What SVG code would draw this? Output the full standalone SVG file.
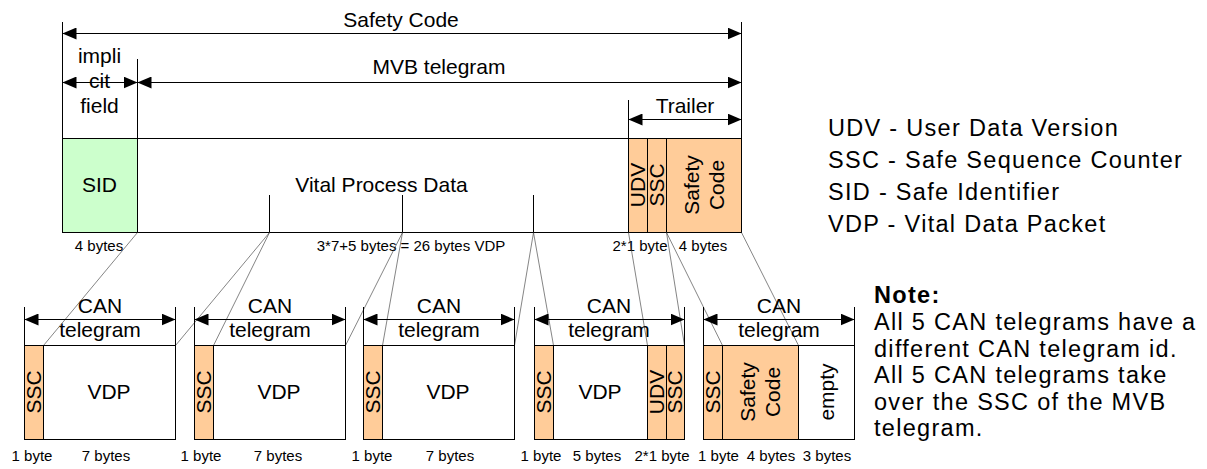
<svg xmlns="http://www.w3.org/2000/svg" width="1207" height="469" viewBox="0 0 1207 469">
<defs>
<style>
.t{font-family:"Liberation Sans",Arial,Helvetica,sans-serif;fill:#000}
.m{font-size:21px;text-anchor:middle}
.s{font-size:15px;text-anchor:middle}
.l{font-size:23.5px;letter-spacing:1.3px}
.ln{stroke:#000;stroke-width:1;fill:none}
.dim{stroke:#000;stroke-width:1;fill:none;marker-start:url(#ah);marker-end:url(#ah)}
.cn{stroke:#333;stroke-width:0.6;fill:none}
.g{fill:#ccffcc;stroke:#000;stroke-width:1}
.o{fill:#ffcc99;stroke:#000;stroke-width:1}
.w{fill:#fff;stroke:#000;stroke-width:1}
</style>
<marker id="ah" viewBox="0 0 14 12" refX="14" refY="6" markerWidth="14" markerHeight="12" markerUnits="userSpaceOnUse" orient="auto-start-reverse">
<path d="M0,0 L14,6 L0,12 z" fill="#000"/>
</marker>
</defs>
<rect width="1207" height="469" fill="#fff"/>

<g id="safety-code-span">
<line class="ln" x1="62.5" y1="22" x2="62.5" y2="138"/>
<line class="ln" x1="741.5" y1="22" x2="741.5" y2="138"/>
<line class="dim" x1="62.5" y1="33.5" x2="741.5" y2="33.5"/>
<text class="t m" x="401" y="27">Safety Code</text>
</g>

<g id="implicit-field-span">
<line class="dim" x1="62.5" y1="82.5" x2="137.5" y2="82.5"/>
<text class="t m"><tspan x="99.5" y="63">impli</tspan><tspan x="99.5" y="88">cit</tspan><tspan x="99.5" y="113">field</tspan></text>
</g>

<g id="mvb-telegram-span">
<line class="ln" x1="137.5" y1="59" x2="137.5" y2="138"/>
<line class="dim" x1="137.5" y1="82.5" x2="741.5" y2="82.5"/>
<text class="t m" x="439" y="74">MVB telegram</text>
</g>

<g id="trailer-span">
<line class="ln" x1="628.5" y1="100" x2="628.5" y2="138"/>
<line class="dim" x1="628.5" y1="119.5" x2="741.5" y2="119.5"/>
<text class="t m" x="685" y="113">Trailer</text>
</g>

<g id="mvb-frame">
<rect class="g" x="62.5" y="138.5" width="75" height="94"/>
<rect class="w" x="137.5" y="138.5" width="491" height="94"/>
<rect class="o" x="628.5" y="138.5" width="19" height="94"/>
<rect class="o" x="647.5" y="138.5" width="19" height="94"/>
<rect class="o" x="666.5" y="138.5" width="75" height="94"/>
<line class="ln" x1="269.5" y1="195" x2="269.5" y2="232"/>
<line class="ln" x1="402.5" y1="195" x2="402.5" y2="232"/>
<line class="ln" x1="533.5" y1="195" x2="533.5" y2="232"/>
<text class="t m" x="99.5" y="192">SID</text>
<text class="t m" x="381.5" y="192">Vital Process Data</text>
<text class="t m" transform="translate(645,185) rotate(-90)">UDV</text>
<text class="t m" transform="translate(664,185) rotate(-90)">SSC</text>
<text class="t m" transform="translate(711,185) rotate(-90)"><tspan x="0" y="-12.5">Safety</tspan><tspan x="0" y="12.5">Code</tspan></text>
<text class="t s" x="99" y="251">4 bytes</text>
<text class="t s" x="411" y="251">3*7+5 bytes = 26 bytes VDP</text>
<text class="t s" x="640" y="251">2*1 byte</text>
<text class="t s" x="703" y="251">4 bytes</text>
</g>

<g id="connectors">
<line class="cn" x1="137.5" y1="232.5" x2="43.5" y2="345.5"/>
<line class="cn" x1="269.5" y1="232.5" x2="175.5" y2="345.5"/>
<line class="cn" x1="269.5" y1="232.5" x2="213.5" y2="345.5"/>
<line class="cn" x1="402.5" y1="232.5" x2="345.5" y2="345.5"/>
<line class="cn" x1="402.5" y1="232.5" x2="382.5" y2="345.5"/>
<line class="cn" x1="533.5" y1="232.5" x2="514.5" y2="345.5"/>
<line class="cn" x1="533.5" y1="232.5" x2="553.5" y2="345.5"/>
<line class="cn" x1="628.5" y1="232.5" x2="647.5" y2="345.5"/>
<line class="cn" x1="666.5" y1="232.5" x2="684.5" y2="345.5"/>
<line class="cn" x1="666.5" y1="232.5" x2="722.5" y2="345.5"/>
<line class="cn" x1="741.5" y1="232.5" x2="798.5" y2="345.5"/>
</g>

<g id="can1">
<line class="ln" x1="24.5" y1="307" x2="24.5" y2="345"/>
<line class="ln" x1="175.5" y1="307" x2="175.5" y2="345"/>
<line class="dim" x1="24.5" y1="319.5" x2="175.5" y2="319.5"/>
<text class="t m"><tspan x="100" y="313">CAN</tspan><tspan x="100" y="337">telegram</tspan></text>
<rect class="o" x="24.5" y="345.5" width="19" height="94"/>
<rect class="w" x="43.5" y="345.5" width="132" height="94"/>
<text class="t m" transform="translate(41,392) rotate(-90)">SSC</text>
<text class="t m" x="109" y="399">VDP</text>
<text class="t s" x="32" y="461">1 byte</text>
<text class="t s" x="106" y="461">7 bytes</text>
</g>

<g id="can2">
<line class="ln" x1="194.5" y1="307" x2="194.5" y2="345"/>
<line class="ln" x1="345.5" y1="307" x2="345.5" y2="345"/>
<line class="dim" x1="194.5" y1="319.5" x2="345.5" y2="319.5"/>
<text class="t m"><tspan x="270" y="313">CAN</tspan><tspan x="270" y="337">telegram</tspan></text>
<rect class="o" x="194.5" y="345.5" width="19" height="94"/>
<rect class="w" x="213.5" y="345.5" width="132" height="94"/>
<text class="t m" transform="translate(211,392) rotate(-90)">SSC</text>
<text class="t m" x="279" y="399">VDP</text>
<text class="t s" x="201" y="461">1 byte</text>
<text class="t s" x="278" y="461">7 bytes</text>
</g>

<g id="can3">
<line class="ln" x1="363.5" y1="307" x2="363.5" y2="345"/>
<line class="ln" x1="514.5" y1="307" x2="514.5" y2="345"/>
<line class="dim" x1="363.5" y1="319.5" x2="514.5" y2="319.5"/>
<text class="t m"><tspan x="439" y="313">CAN</tspan><tspan x="439" y="337">telegram</tspan></text>
<rect class="o" x="363.5" y="345.5" width="19" height="94"/>
<rect class="w" x="382.5" y="345.5" width="132" height="94"/>
<text class="t m" transform="translate(380,392) rotate(-90)">SSC</text>
<text class="t m" x="448" y="399">VDP</text>
<text class="t s" x="372" y="461">1 byte</text>
<text class="t s" x="450" y="461">7 bytes</text>
</g>

<g id="can4">
<line class="ln" x1="534.5" y1="307" x2="534.5" y2="345"/>
<line class="ln" x1="684.5" y1="307" x2="684.5" y2="345"/>
<line class="dim" x1="534.5" y1="319.5" x2="684.5" y2="319.5"/>
<text class="t m"><tspan x="609" y="313">CAN</tspan><tspan x="609" y="337">telegram</tspan></text>
<rect class="o" x="534.5" y="345.5" width="19" height="94"/>
<rect class="w" x="553.5" y="345.5" width="94" height="94"/>
<rect class="o" x="647.5" y="345.5" width="19" height="94"/>
<rect class="o" x="666.5" y="345.5" width="18" height="94"/>
<text class="t m" transform="translate(551,392) rotate(-90)">SSC</text>
<text class="t m" x="600" y="399">VDP</text>
<text class="t m" transform="translate(664,392) rotate(-90)">UDV</text>
<text class="t m" transform="translate(682,392) rotate(-90)">SSC</text>
<text class="t s" x="541" y="461">1 byte</text>
<text class="t s" x="597" y="461">5 bytes</text>
<text class="t s" x="662" y="461">2*1 byte</text>
</g>

<g id="can5">
<line class="ln" x1="703.5" y1="307" x2="703.5" y2="345"/>
<line class="ln" x1="854.5" y1="307" x2="854.5" y2="345"/>
<line class="dim" x1="703.5" y1="319.5" x2="854.5" y2="319.5"/>
<text class="t m"><tspan x="779" y="313">CAN</tspan><tspan x="779" y="337">telegram</tspan></text>
<rect class="o" x="703.5" y="345.5" width="19" height="94"/>
<rect class="o" x="722.5" y="345.5" width="76" height="94"/>
<rect class="w" x="798.5" y="345.5" width="56" height="94"/>
<text class="t m" transform="translate(720,392) rotate(-90)">SSC</text>
<text class="t m" transform="translate(767.5,392) rotate(-90)"><tspan x="0" y="-12.5">Safety</tspan><tspan x="0" y="12.5">Code</tspan></text>
<text class="t m" transform="translate(834,392) rotate(-90)">empty</text>
<text class="t s" x="718.5" y="461">1 byte</text>
<text class="t s" x="771" y="461">4 bytes</text>
<text class="t s" x="827" y="461">3 bytes</text>
</g>

<g id="legend">
<text class="t l"><tspan x="828" y="136">UDV - User Data Version</tspan><tspan x="828" y="168">SSC - Safe Sequence Counter</tspan><tspan x="828" y="200">SID - Safe Identifier</tspan><tspan x="828" y="232">VDP - Vital Data Packet</tspan></text>
</g>

<g id="note">
<text class="t l"><tspan x="874" y="303" font-weight="bold">Note:</tspan><tspan x="874" y="330">All 5 CAN telegrams have a</tspan><tspan x="874" y="356.5">different CAN telegram id.</tspan><tspan x="874" y="383">All 5 CAN telegrams take</tspan><tspan x="874" y="409.5">over the SSC of the MVB</tspan><tspan x="874" y="436">telegram.</tspan></text>
</g>
</svg>
